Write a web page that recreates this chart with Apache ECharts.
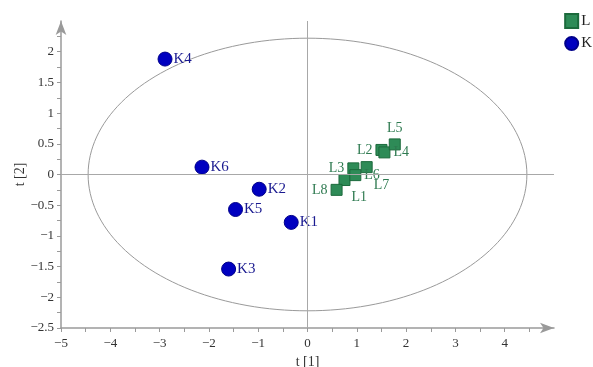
<!DOCTYPE html>
<html>
<head>
<meta charset="utf-8">
<script src="https://cdn.jsdelivr.net/npm/echarts@6/dist/echarts.min.js"></script>
<style>html,body{margin:0;padding:0;background:#fff;overflow:hidden}#c{width:593px;height:367px}</style>
</head>
<body>
<div id="c"></div>
<script>
// ---- data ----
const kNames = ['K1', 'K2', 'K3', 'K4', 'K5', 'K6'];
const kT1 = [-0.33, -0.98, -1.60, -2.89, -1.46, -2.14];
const kT2 = [-0.78, -0.24, -1.54, 1.88, -0.57, 0.12];

const lNames = ['L1', 'L2', 'L3', 'L4', 'L5', 'L6', 'L7', 'L8'];
const lT1 = [0.75, 1.50, 0.93, 1.56, 1.77, 0.97, 1.20, 0.59];
const lT2 = [-0.09, 0.40, 0.10, 0.36, 0.49, -0.01, 0.12, -0.25];

// Hotelling T2 ellipse semi-axes (t[1], t[2])
const ellipseAxes = [4.45, 2.22];

const xTicks = [-5, -4, -3, -2, -1, 0, 1, 2, 3, 4];
const yTicks = [-2.5, -2, -1.5, -1, -0.5, 0, 0.5, 1, 1.5, 2];

// ---- chart ----
const FONT = '"Liberation Serif", "DejaVu Serif", serif';
const fmt = v => {
  const s = String(Math.round(v * 100) / 100);
  return s.replace('-', '\u2212');
};

// label placement for the L points (style only)
const lLabelPlace = {
  L1: { position: 'right', distance: 1, offset: [0, 17] },
  L2: { position: 'left', distance: 3 },
  L3: { position: 'left', distance: 3 },
  L4: { position: 'right', distance: 3 },
  L5: { position: 'top', distance: 3 },
  L6: { position: 'right', distance: 3 },
  L7: { position: 'right', distance: 1, offset: [0, 18] },
  L8: { position: 'left', distance: 3 }
};

const kData = kNames.map((n, i) => ({ name: n, value: [kT1[i], kT2[i]] }));
const lData = lNames.map((n, i) => ({
  name: n, value: [lT1[i], lT2[i]],
  label: lLabelPlace[n]
}));

const chart = echarts.init(document.getElementById('c'), null, { renderer: 'canvas' });

const axisCommon = {
  axisLine: { show: true, onZero: false, lineStyle: { color: '#9a9a9a', width: 1.5 },
              symbol: ['none', 'arrow'], symbolSize: [8, 14], symbolOffset: [0, 0] },
  axisTick: { show: true, inside: false, length: 4, lineStyle: { color: '#9a9a9a' } },
  splitLine: { show: false },
  nameMoveOverlap: false,
  nameTextStyle: { fontFamily: FONT, fontSize: 14, color: '#333' }
};

chart.setOption({
  animation: false,
  backgroundColor: '#fff',
  grid: { left: 61, right: 39, top: 21, bottom: 39, containLabel: false, outerBoundsMode: 'none' },
  legend: {
    orient: 'vertical', right: -4, top: 8, itemGap: 7,
    itemWidth: 13, itemHeight: 14,
    textStyle: { fontFamily: FONT, fontSize: 15, color: '#222', padding: [0, 0, 0, -2] },
    data: [
      { name: 'L', icon: 'rect' },
      { name: 'K', icon: 'circle' }
    ]
  },
  xAxis: Object.assign({}, axisCommon, {
    type: 'value', min: -5, max: 5, interval: 0.5,
    name: 't [1]', nameLocation: 'middle', nameGap: 27,
    axisLabel: {
      fontFamily: FONT, fontSize: 13, color: '#333', margin: 9,
      showMaxLabel: false,
      formatter: v => xTicks.some(t => Math.abs(t - v) < 1e-9) ? fmt(v) : ''
    }
  }),
  yAxis: Object.assign({}, axisCommon, {
    type: 'value', min: -2.5, max: 2.5, interval: 0.25,
    name: 't [2]', nameLocation: 'middle', nameGap: 34, nameRotate: 90,
    axisLabel: {
      fontFamily: FONT, fontSize: 13, color: '#333', margin: 7,
      showMaxLabel: false,
      formatter: v => yTicks.some(t => Math.abs(t - v) < 1e-9) ? fmt(v) : ''
    }
  }),
  series: [
    {
      type: 'custom',
      silent: true,
      z: 1,
      data: [[0, 0, ellipseAxes[0], ellipseAxes[1]]],
      renderItem: function (params, api) {
        const cx = api.value(0), cy = api.value(1), a = api.value(2), b = api.value(3);
        const pts = [];
        const N = 180;
        for (let i = 0; i <= N; i++) {
          const t = (i / N) * Math.PI * 2;
          pts.push(api.coord([cx + a * Math.cos(t), cy + b * Math.sin(t)]));
        }
        return { type: 'polyline', shape: { points: pts },
                 style: { stroke: '#9a9a9a', lineWidth: 1, fill: null } };
      },
      markLine: {
        silent: true, symbol: 'none', animation: false,
        label: { show: false },
        lineStyle: { color: '#a8a8a8', width: 1, type: 'solid' },
        data: [{ xAxis: 0 }, { yAxis: 0 }]
      }
    },
    {
      name: 'L', type: 'scatter', z: 3,
      symbol: 'rect', symbolSize: 11,
      itemStyle: { color: '#2e8b57', borderColor: '#1c6a3c', borderWidth: 1, opacity: 1 },
      label: { show: true, formatter: '{b}', fontFamily: FONT, fontSize: 14, color: '#2e7a50' },
      data: lData
    },
    {
      name: 'K', type: 'scatter', z: 3,
      symbol: 'circle', symbolSize: 14,
      itemStyle: { color: '#0000c0', borderColor: '#00008a', borderWidth: 1, opacity: 1 },
      label: { show: true, formatter: '{b}', position: 'right', distance: 1,
               fontFamily: FONT, fontSize: 15, color: '#1a1a90' },
      data: kData
    }
  ]
});
</script>
</body>
</html>
